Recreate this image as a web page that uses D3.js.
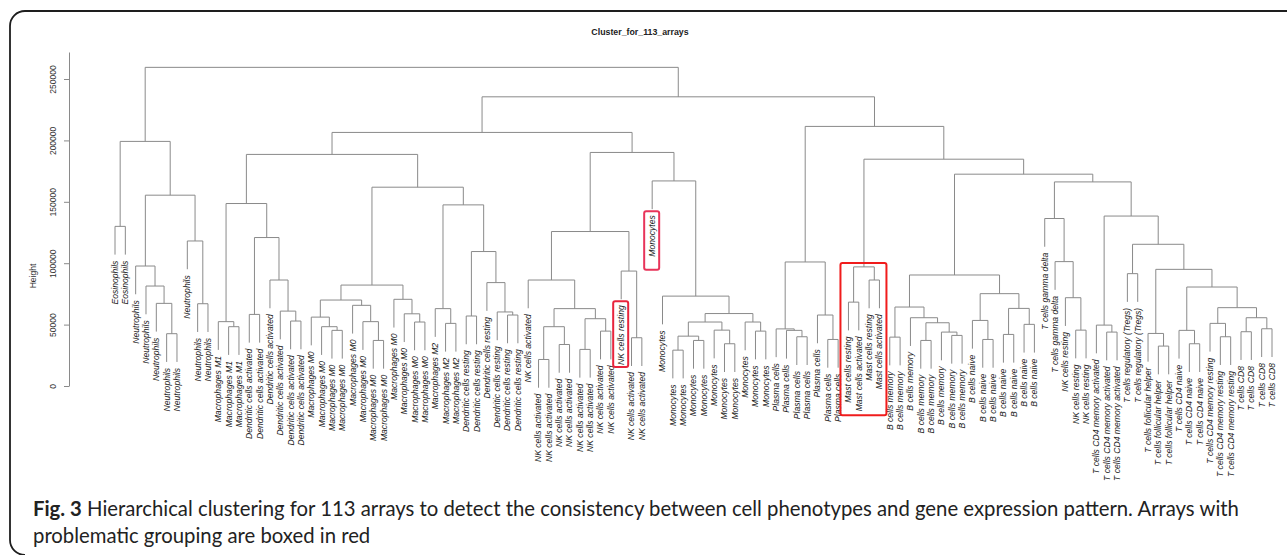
<!DOCTYPE html>
<html>
<head>
<meta charset="utf-8">
<script src="https://cdn.jsdelivr.net/npm/d3@7"></script>
<style>
  body { margin: 0; background: #fff; }
</style>
</head>
<body>
<svg id="chart" width="1287" height="555"></svg>
<script>
// leaf labels, left to right
const labels = [
  "Eosinophils", "Eosinophils",
  "Neutrophils", "Neutrophils", "Neutrophils", "Neutrophils", "Neutrophils", "Neutrophils", "Neutrophils", "Neutrophils",
  "Macrophages M1", "Macrophages M1", "Macrophages M1",
  "Dendritic cells activated", "Dendritic cells activated", "Dendritic cells activated",
  "Dendritic cells activated", "Dendritic cells activated", "Dendritic cells activated",
  "Macrophages M0", "Macrophages M0", "Macrophages M0", "Macrophages M0", "Macrophages M0", "Macrophages M0",
  "Macrophages M0", "Macrophages M0", "Macrophages M0", "Macrophages M0", "Macrophages M0", "Macrophages M0",
  "Macrophages M2", "Macrophages M2", "Macrophages M2",
  "Dendritic cells resting", "Dendritic cells resting", "Dendritic cells resting",
  "Dendritic cells resting", "Dendritic cells resting", "Dendritic cells resting",
  "NK cells activated", "NK cells activated", "NK cells activated", "NK cells activated", "NK cells activated",
  "NK cells activated", "NK cells activated", "NK cells activated", "NK cells activated",
  "NK cells resting",
  "NK cells activated", "NK cells activated",
  "Monocytes", "Monocytes", "Monocytes", "Monocytes", "Monocytes", "Monocytes",
  "Monocytes", "Monocytes", "Monocytes", "Monocytes", "Monocytes", "Monocytes",
  "Plasma cells", "Plasma cells", "Plasma cells", "Plasma cells", "Plasma cells", "Plasma cells", "Plasma cells",
  "Mast cells resting", "Mast cells activated", "Mast cells resting", "Mast cells activated",
  "B cells memory", "B cells memory", "B cells memory", "B cells memory",
  "B cells memory", "B cells memory", "B cells memory", "B cells memory",
  "B cells naive", "B cells naive", "B cells naive", "B cells naive", "B cells naive", "B cells naive", "B cells naive",
  "T cells gamma delta", "T cells gamma delta",
  "NK cells resting", "NK cells resting", "NK cells resting",
  "T cells CD4 memory activated", "T cells CD4 memory activated", "T cells CD4 memory activated",
  "T cells regulatory (Tregs)", "T cells regulatory (Tregs)",
  "T cells follicular helper", "T cells follicular helper", "T cells follicular helper",
  "T cells CD4 naive", "T cells CD4 naive", "T cells CD4 naive",
  "T cells CD4 memory resting", "T cells CD4 memory resting", "T cells CD4 memory resting",
  "T cells CD8", "T cells CD8", "T cells CD8", "T cells CD8"
];

// merge list like hclust: negative = leaf number, positive = earlier merge; third value = height
const merges = [
  [-1, -2, 130000], [-6, -7, 42600], [-5, 2, 67300], [-4, 3, 81400], [-3, 4, 97700],
  [-9, -10, 67000], [-8, 6, 118100], [5, 7, 155400], [1, 8, 199200],
  [-12, -13, 48300], [-11, 10, 52400],
  [-14, -15, 58300], [-18, -19, 52900], [-17, 13, 61000], [-16, 14, 86300], [12, 15, 120900], [11, 16, 148600],
  [-22, -23, 45300], [-21, 18, 48300], [-20, 19, 56100], [-26, -27, 37100], [-25, 21, 52400], [-24, 22, 65700],
  [20, 23, 70000], [-30, -31, 52100], [-29, 25, 58800], [-28, 26, 70600], [24, 27, 82200],
  [-33, -34, 51000], [-32, 29, 63000],
  [-35, -36, 57000], [-39, -40, 57800], [-38, 32, 60300], [-37, 33, 84200], [31, 34, 109500],
  [30, 35, 147500], [28, 36, 161900], [17, 37, 188600],
  [-42, -43, 21600], [-44, -45, 33800], [39, 40, 48300], [-46, -47, 29800], [-48, -49, 44700],
  [42, 43, 54800], [41, 44, 63000], [-41, 45, 86300], [-51, -52, 39300], [-50, 47, 93600], [46, 48, 125800],
  [-55, -56, 29200], [-57, -58, 37100], [50, 51, 40600], [-60, -61, 34400], [-59, 53, 45500], [52, 54, 52100],
  [-63, -64, 44700], [-62, 56, 52100], [55, 57, 59000], [-54, 58, 73200], [-53, 59, 167000],
  [49, 60, 190200], [38, 61, 206500],
  [-67, -68, 40100], [-66, 63, 45300], [-65, 64, 46500], [-70, -71, 37900], [-69, 66, 57800], [65, 67, 101000],
  [-72, -73, 68300], [-74, -75, 86300], [69, 70, 97000],
  [-76, -77, 39800], [-79, -80, 37100], [-82, -83, 41200], [-81, 74, 43900], [73, 75, 51500],
  [-78, 76, 55600], [72, 77, 64300], [-85, -86, 37900], [-84, 79, 53400], [-87, -88, 42000],
  [-89, -90, 50200], [81, 82, 63200], [80, 83, 75200], [78, 84, 90400],
  [-94, -95, 45500], [-93, 86, 71900], [-92, 87, 101300], [-91, 88, 136400],
  [-97, -98, 43900], [-96, 90, 49600], [-99, -100, 91500], [-102, -103, 32500], [-101, 93, 42800],
  [-105, -106, 34400], [-104, 95, 45300], [-108, -109, 40100], [-107, 97, 51000],
  [-110, -111, 44200], [-112, -113, 46600], [99, 100, 55600], [98, 101, 63800], [96, 102, 80600],
  [94, 103, 95000], [92, 104, 115400], [91, 105, 138400], [89, 106, 166200], [85, 107, 172500],
  [71, 108, 184700], [68, 109, 211400], [62, 110, 235500], [9, 111, 259500]
];

const yTicks = [0, 50000, 100000, 150000, 200000, 250000];
const boxedLeaves = [[50, 50], [53, 53], [72, 75]];
const title = "Cluster_for_113_arrays";
const captionBold = "Fig. 3";
const captionLine1 = " Hierarchical clustering for 113 arrays to detect the consistency between cell phenotypes and gene expression pattern. Arrays with";
const captionLine2 = "problematic grouping are boxed in red";

const hang = 23000;
const boxColors = ["#e8243c", "#e8345a", "#f01c1c"];
const boxPadBottom = [2, 13, 4];
const lineColor = "#8a8a8a";
const labelFont = "italic 8.6px 'Liberation Sans', Arial, sans-serif";

const svg = d3.select("#chart");

// frame of the figure
svg.append("path")
  .attr("d", "M1287,11H25A15,15 0 0 0 10,26V540A15,15 0 0 0 25,555")
  .attr("fill", "none")
  .attr("stroke", "#1e1e1e")
  .attr("stroke-width", 1.8);

let x = d3.scaleLinear().domain([1, labels.length]).range([115, 1272]);
let y = d3.scaleLinear().domain([0, 272000]).range([386, 52]);

// build the tree
const nodes = [];
const ref = r => r < 0 ? { leaf: -r, name: labels[-r - 1] } : nodes[r - 1];
merges.forEach(m => nodes.push({ height: m[2], children: [ref(m[0]), ref(m[1])] }));
const root = d3.hierarchy(nodes[nodes.length - 1]);
root.eachAfter(d => {
  d.px = d.children ? (d.children[0].px + d.children[1].px) / 2 : x(d.data.leaf);
});
const bottomOf = d => d.children ? y(d.data.height) : y(d.parent.data.height - hang);

svg.append("g")
  .selectAll("path")
  .data(root.descendants().filter(d => d.children))
  .join("path")
  .attr("d", d => {
    let l = d.children[0], r = d.children[1];
    return "M" + l.px + "," + bottomOf(l) + "V" + y(d.data.height) + "H" + r.px + "V" + bottomOf(r);
  })
  .attr("fill", "none")
  .attr("stroke", lineColor)
  .attr("stroke-width", 1);

let leafText = svg.append("g")
  .selectAll("text")
  .data(root.leaves())
  .join("text")
  .attr("transform", d => "translate(" + d.px + "," + (bottomOf(d) + 6) + ") rotate(-90)")
  .attr("dy", "0.34em")
  .attr("text-anchor", "end")
  .attr("fill", "#222")
  .style("font", labelFont)
  .text(d => d.data.name);

// y axis
let yAxis = svg.append("g")
  .attr("transform", "translate(69,0)")
  .call(d3.axisLeft(y).tickValues(yTicks).tickSize(5).tickSizeOuter(0).tickFormat(d3.format("d")));
yAxis.select(".domain").attr("stroke", lineColor);
yAxis.selectAll(".tick line").attr("stroke", lineColor);
yAxis.selectAll(".tick text")
  .attr("x", 0)
  .attr("dy", null)
  .attr("text-anchor", "middle")
  .attr("transform", "rotate(-90) translate(0,-13)")
  .attr("fill", "#333")
  .style("font", "8.5px 'Liberation Sans', Arial, sans-serif");

svg.append("text")
  .attr("transform", "translate(36,276) rotate(-90)")
  .attr("text-anchor", "middle")
  .attr("fill", "#333")
  .style("font", "8.5px 'Liberation Sans', Arial, sans-serif")
  .text("Height");

svg.append("text")
  .attr("x", 640)
  .attr("y", 35)
  .attr("text-anchor", "middle")
  .attr("fill", "#222")
  .style("font", "bold 8.8px 'Liberation Sans', Arial, sans-serif")
  .text(title);

// red boxes around the misplaced arrays
let textLen = new Map();
leafText.each(function(d) { textLen.set(d.data.leaf, this.getComputedTextLength()); });

boxedLeaves.forEach((g, i) => {
  let leaves = root.leaves().filter(d => d.data.leaf >= g[0] && d.data.leaf <= g[1]);
  let top = d3.min(leaves, d => bottomOf(d)) + 2;
  if (g[1] > g[0]) {
    let sub = root.descendants().find(d => d.children && d.leaves().length === leaves.length && d.leaves()[0].data.leaf === g[0]);
    top = y(sub.data.height) - 4;
  }
  let bottom = d3.max(leaves, d => bottomOf(d) + 6 + textLen.get(d.data.leaf)) + boxPadBottom[i];
  let x0 = x(g[0]) - 8, x1 = x(g[1]) + 7;
  svg.append("rect")
    .attr("x", x0).attr("y", top)
    .attr("width", x1 - x0).attr("height", bottom - top)
    .attr("rx", 2)
    .attr("fill", "none")
    .attr("stroke", boxColors[i])
    .attr("stroke-width", 2);
});

// caption
let cap = svg.append("text")
  .attr("fill", "#222")
  .style("font-family", "Lato, 'Open Sans', sans-serif")
  .style("font-size", "16px");
let l1 = cap.append("tspan").attr("x", 33).attr("y", 516);
l1.append("tspan").attr("font-weight", "bold").text(captionBold);
l1.append("tspan").text(captionLine1);
cap.append("tspan").attr("x", 33).attr("y", 543).text(captionLine2);
let w = l1.node().getComputedTextLength();
cap.style("font-size", (16 * 1207 / w) + "px");
</script>
</body>
</html>
